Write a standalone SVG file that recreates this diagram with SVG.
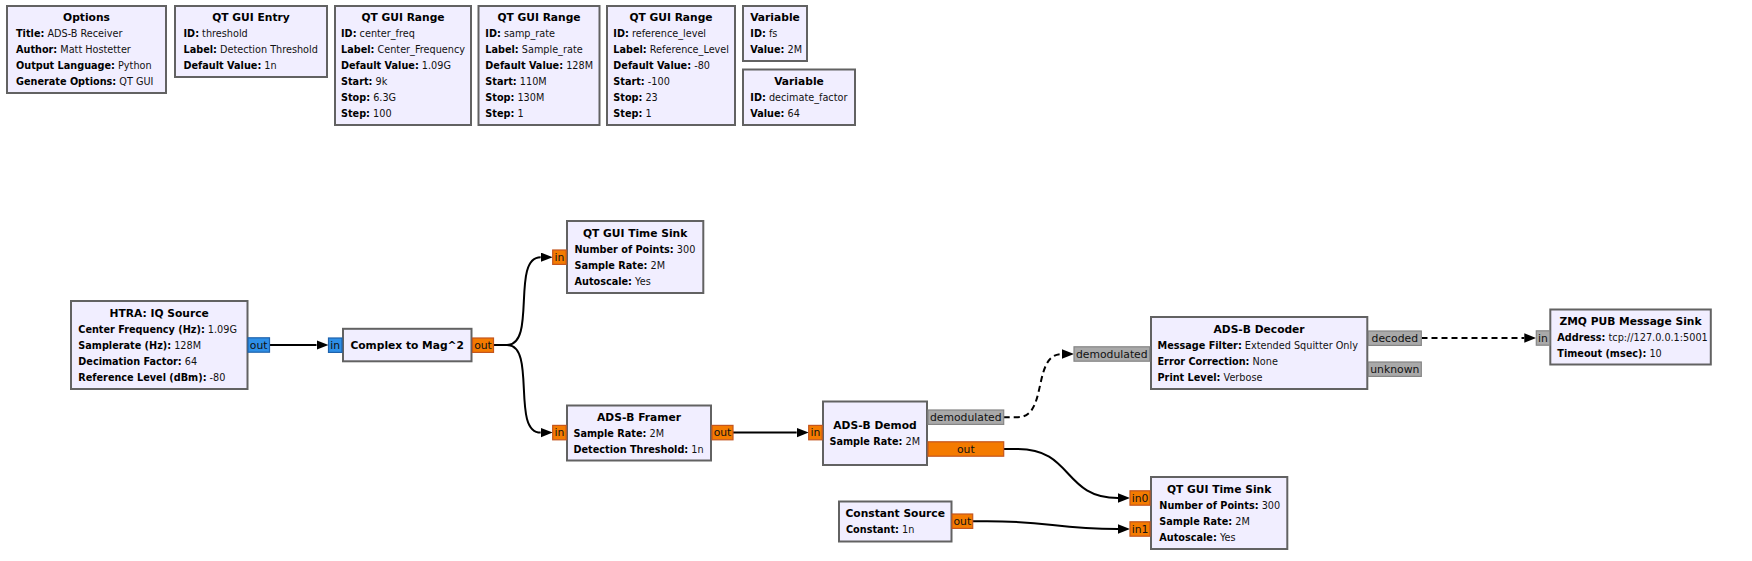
<svg xmlns="http://www.w3.org/2000/svg" width="1752" height="561" viewBox="0 0 1752 561">
<style>
.bg{fill:#ffffff}
.blk{fill:#F1EEFF;stroke:#626262;stroke-width:2}
.t{font-family:"DejaVu Sans",sans-serif;font-weight:bold;font-size:10.7px;text-anchor:middle;fill:#000}
.p{font-family:"DejaVu Sans",sans-serif;font-size:9.7px;fill:#111}
.k{font-weight:bold;fill:#000}
.pf{fill:#F47B00;stroke:#C4561E;stroke-width:1.2}
.pc{fill:#2E8FE6;stroke:#1E62AC;stroke-width:1.2}
.pm{fill:#A9A9A9;stroke:#858585;stroke-width:1.2}
.pl{font-family:"DejaVu Sans",sans-serif;font-size:10.8px;text-anchor:middle;fill:#111}
.cn{fill:none;stroke:#000;stroke-width:2}
.ds{stroke-dasharray:6 4}
</style>
<defs>
<marker id="arr" markerUnits="userSpaceOnUse" markerWidth="12" markerHeight="10" refX="0" refY="4.7" orient="auto">
<path d="M0,0 L12,4.7 L0,9.4 Z" fill="#000"/>
</marker>
</defs>
<rect class="bg" x="0" y="0" width="1752" height="561"/>

<g id="options">
<rect class="blk" x="7" y="6" width="159" height="87"/>
<text class="t" x="86.5" y="21">Options</text>
<text class="p" x="16" y="37"><tspan class="k">Title:</tspan> ADS-B Receiver</text>
<text class="p" x="16" y="53"><tspan class="k">Author:</tspan> Matt Hostetter</text>
<text class="p" x="16" y="69"><tspan class="k">Output Language:</tspan> Python</text>
<text class="p" x="16" y="85"><tspan class="k">Generate Options:</tspan> QT GUI</text>
</g>

<g id="qtgui_entry">
<rect class="blk" x="175" y="6" width="152" height="71"/>
<text class="t" x="251" y="21">QT GUI Entry</text>
<text class="p" x="183.5" y="37"><tspan class="k">ID:</tspan> threshold</text>
<text class="p" x="183.5" y="53"><tspan class="k">Label:</tspan> Detection Threshold</text>
<text class="p" x="183.5" y="69"><tspan class="k">Default Value:</tspan> 1n</text>
</g>

<g id="range_center_freq">
<rect class="blk" x="335" y="6" width="136" height="119"/>
<text class="t" x="403" y="21">QT GUI Range</text>
<text class="p" x="341" y="37"><tspan class="k">ID:</tspan> center_freq</text>
<text class="p" x="341" y="53"><tspan class="k">Label:</tspan> Center_Frequency</text>
<text class="p" x="341" y="69"><tspan class="k">Default Value:</tspan> 1.09G</text>
<text class="p" x="341" y="85"><tspan class="k">Start:</tspan> 9k</text>
<text class="p" x="341" y="101"><tspan class="k">Stop:</tspan> 6.3G</text>
<text class="p" x="341" y="117"><tspan class="k">Step:</tspan> 100</text>
</g>

<g id="range_samp_rate">
<rect class="blk" x="478.5" y="6" width="121" height="119"/>
<text class="t" x="539" y="21">QT GUI Range</text>
<text class="p" x="485.3" y="37"><tspan class="k">ID:</tspan> samp_rate</text>
<text class="p" x="485.3" y="53"><tspan class="k">Label:</tspan> Sample_rate</text>
<text class="p" x="485.3" y="69"><tspan class="k">Default Value:</tspan> 128M</text>
<text class="p" x="485.3" y="85"><tspan class="k">Start:</tspan> 110M</text>
<text class="p" x="485.3" y="101"><tspan class="k">Stop:</tspan> 130M</text>
<text class="p" x="485.3" y="117"><tspan class="k">Step:</tspan> 1</text>
</g>

<g id="range_reference_level">
<rect class="blk" x="607" y="6" width="128" height="119"/>
<text class="t" x="671" y="21">QT GUI Range</text>
<text class="p" x="613.3" y="37"><tspan class="k">ID:</tspan> reference_level</text>
<text class="p" x="613.3" y="53"><tspan class="k">Label:</tspan> Reference_Level</text>
<text class="p" x="613.3" y="69"><tspan class="k">Default Value:</tspan> -80</text>
<text class="p" x="613.3" y="85"><tspan class="k">Start:</tspan> -100</text>
<text class="p" x="613.3" y="101"><tspan class="k">Stop:</tspan> 23</text>
<text class="p" x="613.3" y="117"><tspan class="k">Step:</tspan> 1</text>
</g>

<g id="variable_fs">
<rect class="blk" x="743" y="6" width="64" height="55"/>
<text class="t" x="775" y="21">Variable</text>
<text class="p" x="750.3" y="37"><tspan class="k">ID:</tspan> fs</text>
<text class="p" x="750.3" y="53"><tspan class="k">Value:</tspan> 2M</text>
</g>

<g id="variable_decimate_factor">
<rect class="blk" x="743" y="69.5" width="112" height="55.5"/>
<text class="t" x="799" y="84.5">Variable</text>
<text class="p" x="750.3" y="100.5"><tspan class="k">ID:</tspan> decimate_factor</text>
<text class="p" x="750.3" y="116.5"><tspan class="k">Value:</tspan> 64</text>
</g>

<g id="connections">
<path class="cn" d="M269.5,345 H316.5" marker-end="url(#arr)"/>
<path class="cn" d="M493.5,345 H507 C537,345 510.7,257.2 540.7,257.2" marker-end="url(#arr)"/>
<path class="cn" d="M493.5,345 H507 C537,345 510.7,432.6 540.7,432.6" marker-end="url(#arr)"/>
<path class="cn" d="M733,432.6 H796.7" marker-end="url(#arr)"/>
<path class="cn ds" d="M1003.7,417.2 H1018 C1048,417.2 1032,354 1062,354" marker-end="url(#arr)"/>
<path class="cn" d="M1003.7,449 H1018 C1073,449 1063,498 1118,498" marker-end="url(#arr)"/>
<path class="cn" d="M972.7,521.2 H987 C1050,521.2 1055,529 1118,529" marker-end="url(#arr)"/>
<path class="cn ds" d="M1421.5,338 H1524.3" marker-end="url(#arr)"/>
</g>

<g id="htra_iq_source">
<rect class="blk" x="71" y="301" width="176.5" height="88"/>
<text class="t" x="159.2" y="316.5">HTRA: IQ Source</text>
<text class="p" x="78.3" y="332.5"><tspan class="k">Center Frequency (Hz):</tspan> 1.09G</text>
<text class="p" x="78.3" y="348.5"><tspan class="k">Samplerate (Hz):</tspan> 128M</text>
<text class="p" x="78.3" y="364.5"><tspan class="k">Decimation Factor:</tspan> 64</text>
<text class="p" x="78.3" y="380.5"><tspan class="k">Reference Level (dBm):</tspan> -80</text>
<rect class="pc" x="248" y="337.8" width="21.5" height="14.4"/>
<text class="pl" x="258.7" y="348.8">out</text>
</g>

<g id="complex_to_mag_squared">
<rect class="blk" x="343" y="328.8" width="128.5" height="32.5"/>
<text class="t" x="407.2" y="349">Complex to Mag^2</text>
<rect class="pc" x="328.5" y="338" width="13.5" height="14.4"/>
<text class="pl" x="335.2" y="349">in</text>
<rect class="pf" x="472.5" y="338" width="21" height="14.4"/>
<text class="pl" x="483" y="349">out</text>
</g>

<g id="qtgui_time_sink_1">
<rect class="blk" x="567" y="221" width="136.3" height="72"/>
<text class="t" x="635.1" y="236.5">QT GUI Time Sink</text>
<text class="p" x="574.5" y="252.5"><tspan class="k">Number of Points:</tspan> 300</text>
<text class="p" x="574.5" y="268.5"><tspan class="k">Sample Rate:</tspan> 2M</text>
<text class="p" x="574.5" y="284.5"><tspan class="k">Autoscale:</tspan> Yes</text>
<rect class="pf" x="552.7" y="250" width="13.5" height="14.4"/>
<text class="pl" x="559.4" y="261">in</text>
</g>

<g id="adsb_framer">
<rect class="blk" x="567" y="405.5" width="144" height="55"/>
<text class="t" x="639" y="420.8">ADS-B Framer</text>
<text class="p" x="573.5" y="436.8"><tspan class="k">Sample Rate:</tspan> 2M</text>
<text class="p" x="573.5" y="452.8"><tspan class="k">Detection Threshold:</tspan> 1n</text>
<rect class="pf" x="552.7" y="425.4" width="13.5" height="14.4"/>
<text class="pl" x="559.4" y="436.4">in</text>
<rect class="pf" x="712" y="425.4" width="21" height="14.4"/>
<text class="pl" x="722.5" y="436.4">out</text>
</g>

<g id="adsb_demod">
<rect class="blk" x="823" y="401.5" width="104" height="63.5"/>
<text class="t" x="875" y="429">ADS-B Demod</text>
<text class="p" x="829.5" y="444.8"><tspan class="k">Sample Rate:</tspan> 2M</text>
<rect class="pf" x="808.7" y="425.4" width="13.5" height="14.4"/>
<text class="pl" x="815.4" y="436.4">in</text>
<rect class="pm" x="928" y="410" width="75.7" height="14.4"/>
<text class="pl" x="965.8" y="421">demodulated</text>
<rect class="pf" x="928" y="441.8" width="75.7" height="14.4"/>
<text class="pl" x="965.8" y="452.8">out</text>
</g>

<g id="constant_source">
<rect class="blk" x="839" y="501.5" width="112.5" height="40"/>
<text class="t" x="895.2" y="516.8">Constant Source</text>
<text class="p" x="846" y="532.6"><tspan class="k">Constant:</tspan> 1n</text>
<rect class="pf" x="952" y="514" width="20.7" height="14.4"/>
<text class="pl" x="962.3" y="525">out</text>
</g>

<g id="qtgui_time_sink_2">
<rect class="blk" x="1151" y="477" width="136.3" height="72"/>
<text class="t" x="1219.1" y="492.7">QT GUI Time Sink</text>
<text class="p" x="1159.3" y="508.7"><tspan class="k">Number of Points:</tspan> 300</text>
<text class="p" x="1159.3" y="524.7"><tspan class="k">Sample Rate:</tspan> 2M</text>
<text class="p" x="1159.3" y="540.7"><tspan class="k">Autoscale:</tspan> Yes</text>
<rect class="pf" x="1130" y="490.8" width="20" height="14.4"/>
<text class="pl" x="1140" y="501.8">in0</text>
<rect class="pf" x="1130" y="521.8" width="20" height="14.4"/>
<text class="pl" x="1140" y="532.8">in1</text>
</g>

<g id="adsb_decoder">
<rect class="blk" x="1151" y="317" width="216.3" height="72"/>
<text class="t" x="1259.1" y="332.5">ADS-B Decoder</text>
<text class="p" x="1157.5" y="348.5"><tspan class="k">Message Filter:</tspan> Extended Squitter Only</text>
<text class="p" x="1157.5" y="364.5"><tspan class="k">Error Correction:</tspan> None</text>
<text class="p" x="1157.5" y="380.5"><tspan class="k">Print Level:</tspan> Verbose</text>
<rect class="pm" x="1074" y="346.8" width="75.7" height="14.4"/>
<text class="pl" x="1111.8" y="357.8">demodulated</text>
<rect class="pm" x="1368.3" y="331" width="53" height="14.4"/>
<text class="pl" x="1394.8" y="342">decoded</text>
<rect class="pm" x="1368.3" y="362" width="53" height="14.4"/>
<text class="pl" x="1394.8" y="373">unknown</text>
</g>

<g id="zmq_pub_msg_sink">
<rect class="blk" x="1550.3" y="309.5" width="160.5" height="55"/>
<text class="t" x="1630.5" y="324.7">ZMQ PUB Message Sink</text>
<text class="p" x="1557.3" y="340.7"><tspan class="k">Address:</tspan> tcp://127.0.0.1:5001</text>
<text class="p" x="1557.3" y="356.7"><tspan class="k">Timeout (msec):</tspan> 10</text>
<rect class="pm" x="1536.3" y="330.8" width="13.5" height="14.4"/>
<text class="pl" x="1543" y="341.8">in</text>
</g>
</svg>
